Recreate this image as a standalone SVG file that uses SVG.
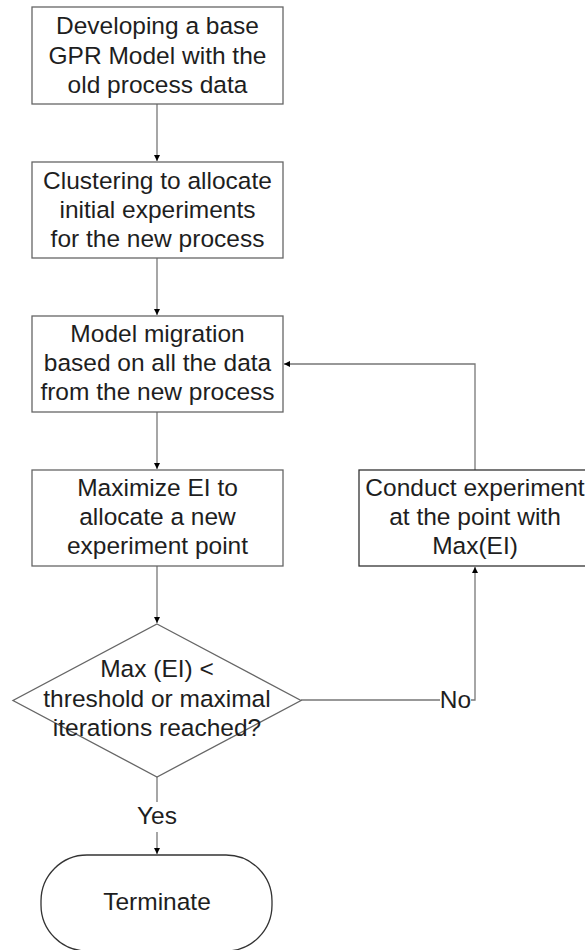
<svg xmlns="http://www.w3.org/2000/svg" width="585" height="950" viewBox="0 0 585 950">
<defs>
<style>
.box{fill:#fff;stroke:#666;stroke-width:1.3}
.t{font-family:"Liberation Sans",Arial,sans-serif;font-size:24.5px;fill:#1e1e1e;text-anchor:middle}
.c{fill:none;stroke:#777;stroke-width:1.3}
</style>
<marker id="ah" viewBox="0 0 10 10" refX="10" refY="5" markerWidth="6" markerHeight="6" markerUnits="userSpaceOnUse" orient="auto"><path d="M0,0 L10,5 L0,10 z" fill="#000"/></marker>
</defs>
<rect width="585" height="950" fill="#fff"/>
<g id="connectors">
<path class="c" d="M157,104 V161" marker-end="url(#ah)"/>
<path class="c" d="M157,258 V315" marker-end="url(#ah)"/>
<path class="c" d="M157,412 V469" marker-end="url(#ah)"/>
<path class="c" d="M157,566 V623" marker-end="url(#ah)"/>
<path class="c" d="M157,777 V854" marker-end="url(#ah)"/>
<path class="c" d="M301,700 H475 V567" marker-end="url(#ah)"/>
<path class="c" d="M475,470 V364 H284" marker-end="url(#ah)"/>
<rect x="138" y="802" width="38" height="30" fill="#fff"/>
<text class="t" x="157" y="824">Yes</text>
<rect x="440" y="686" width="31" height="28" fill="#fff"/>
<text class="t" x="455.5" y="708">No</text>
</g>
<g id="n1">
<rect class="box" x="32" y="7" width="251" height="97"/>
<text class="t" x="157.5" y="34">Developing a base</text>
<text class="t" x="157.5" y="63.5">GPR Model with the</text>
<text class="t" x="157.5" y="92.5">old process data</text>
</g>
<g id="n2">
<rect class="box" x="32" y="162" width="251" height="96"/>
<text class="t" x="157.5" y="189">Clustering to allocate</text>
<text class="t" x="157.5" y="218">initial experiments</text>
<text class="t" x="157.5" y="247">for the new process</text>
</g>
<g id="n3">
<rect class="box" x="32" y="316" width="251" height="96"/>
<text class="t" x="157.5" y="342">Model migration</text>
<text class="t" x="157.5" y="371">based on all the data</text>
<text class="t" x="157.5" y="400">from the new process</text>
</g>
<g id="n4">
<rect class="box" x="32" y="470" width="251" height="96"/>
<text class="t" x="157.5" y="496">Maximize EI to</text>
<text class="t" x="157.5" y="525">allocate a new</text>
<text class="t" x="157.5" y="554">experiment point</text>
</g>
<g id="n5">
<rect class="box" x="359" y="470" width="233" height="96" style="stroke:#333"/>
<text class="t" x="475" y="496">Conduct experiment</text>
<text class="t" x="475" y="525">at the point with</text>
<text class="t" x="475" y="554">Max(EI)</text>
</g>
<g id="n6">
<polygon class="box" points="157,624 301,700.5 157,777 13,700.5"/>
<text class="t" x="157" y="677">Max (EI) &lt;</text>
<text class="t" x="157" y="707">threshold or maximal</text>
<text class="t" x="157" y="736">iterations reached?</text>
</g>
<g id="n7">
<rect class="box" x="41" y="855" width="231" height="96" rx="46" ry="46" style="stroke:#333"/>
<text class="t" x="157" y="910">Terminate</text>
</g>
</svg>
